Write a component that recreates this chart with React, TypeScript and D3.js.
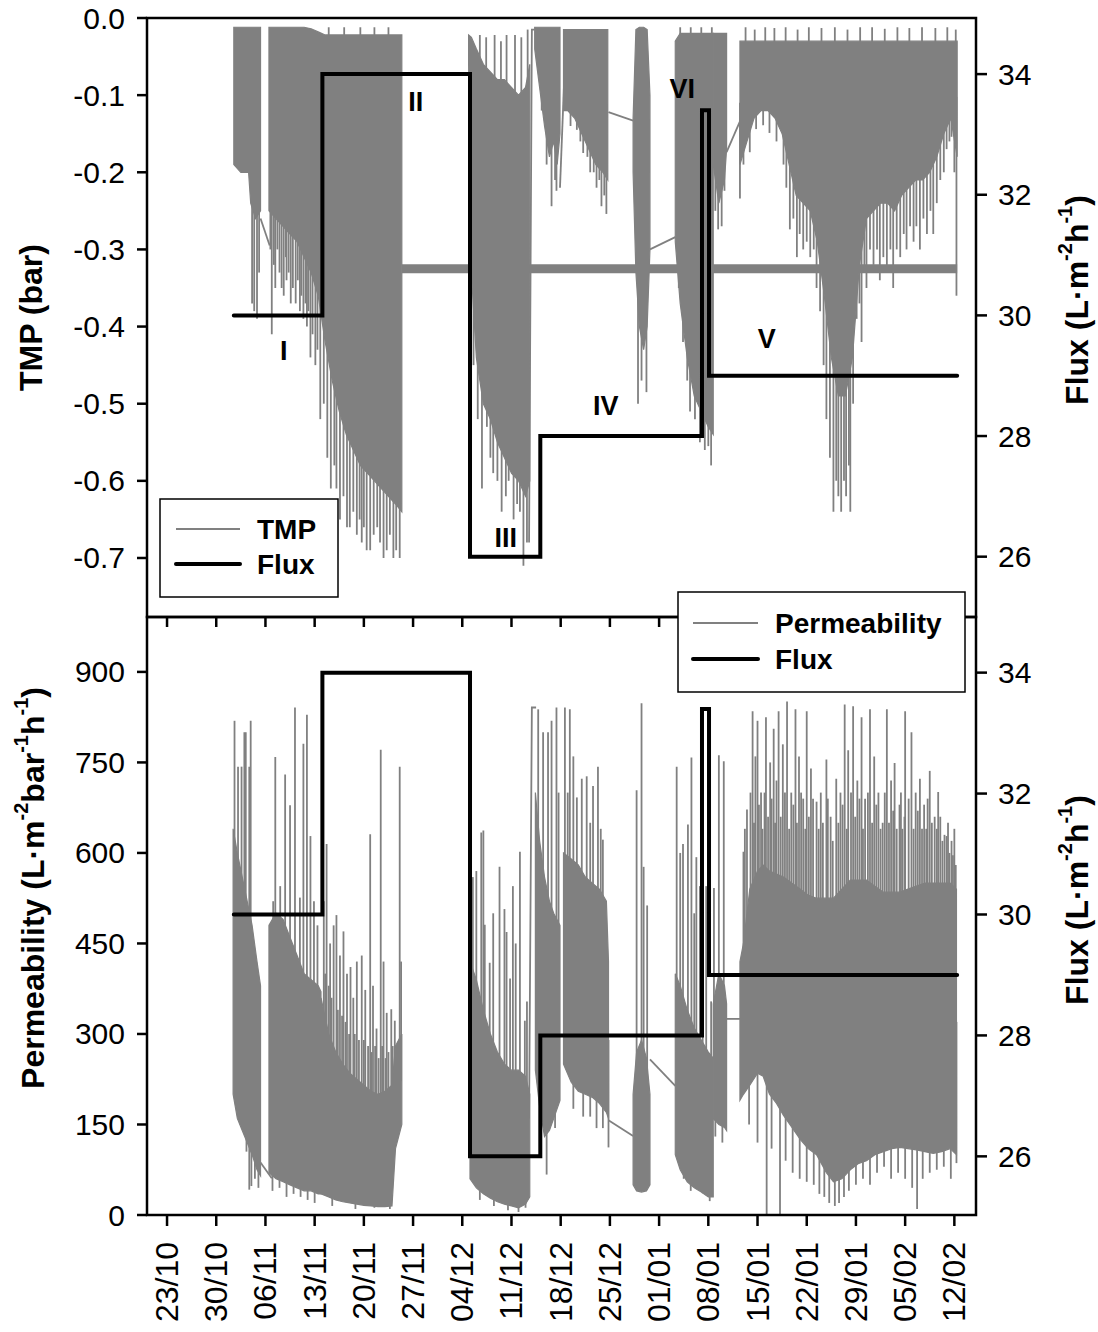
import React from "react";
import * as d3 from "d3";

// ---------------- DATA ----------------
// days are counted from 23/10 (day 0)
const xTickLabels = ["23/10", "30/10", "06/11", "13/11", "20/11", "27/11", "04/12", "11/12", "18/12", "25/12", "01/01", "08/01", "15/01", "22/01", "29/01", "05/02", "12/02"];
const tmpTicks = [0, -0.1, -0.2, -0.3, -0.4, -0.5, -0.6, -0.7];
const permTicks = [0, 150, 300, 450, 600, 750, 900];
const fluxTicks = [26, 28, 30, 32, 34];

// flux step series [day, flux]
const fluxSteps: [number, number][] = [[9.5, 30], [22.1, 34], [43.1, 26], [53.1, 28], [76.1, 33.4], [77.1, 29], [112.4, 29]];

// TMP dense cores [day, upper, lower]
const tmpCore1: [number, number, number][] = [[9.5, -0.012, -0.19], [10.5, -0.012, -0.2], [11.6, -0.012, -0.2], [11.9, -0.012, -0.24], [12.6, -0.012, -0.26], [13.3, -0.012, -0.25]];
const tmpSpikes1: [number, number][] = [[12.1, -0.37], [12.4, -0.38], [12.8, -0.39], [13.1, -0.33]];
const tmpCore2: [number, number, number][] = [[14.5, -0.012, -0.25], [15.5, -0.012, -0.26], [16.5, -0.012, -0.27], [17.5, -0.012, -0.28], [18.5, -0.012, -0.29], [19.5, -0.012, -0.31], [20.5, -0.014, -0.33], [21.5, -0.018, -0.36], [22.5, -0.022, -0.42], [23.5, -0.022, -0.47], [24.5, -0.022, -0.51], [25.5, -0.022, -0.54], [26.5, -0.022, -0.56], [27.5, -0.022, -0.58], [28.5, -0.022, -0.59], [29.5, -0.022, -0.6], [30.5, -0.022, -0.61], [31.5, -0.022, -0.62], [32.5, -0.022, -0.63], [33.4, -0.022, -0.64]];
const tmpSpikes2: [number, number][] = [[14.9, -0.41], [15.4, -0.35], [16.0, -0.33], [16.6, -0.36], [17.0, -0.34], [17.6, -0.37], [18.3, -0.37], [18.9, -0.38], [19.4, -0.39], [19.9, -0.4], [20.4, -0.44], [21.1, -0.45], [21.8, -0.52], [22.3, -0.5], [22.8, -0.57], [23.3, -0.61], [23.8, -0.58], [24.1, -0.61], [24.6, -0.65], [25.1, -0.62], [25.6, -0.66], [26.0, -0.66], [26.5, -0.64], [27.0, -0.67], [27.4, -0.65], [27.7, -0.68], [28.0, -0.66], [28.4, -0.69], [28.9, -0.69], [29.4, -0.67], [29.9, -0.66], [30.3, -0.68], [30.8, -0.7], [31.25, -0.69], [31.7, -0.67], [32.2, -0.7], [32.6, -0.69], [33.1, -0.7], [23.0, -0.012], [25.2, -0.012], [27.5, -0.012], [29.5, -0.012], [31.5, -0.012], [14.7, -0.3], [15.2, -0.32], [15.7, -0.3], [16.3, -0.35], [16.9, -0.31], [17.3, -0.33], [17.9, -0.35], [18.6, -0.34], [19.1, -0.36], [19.7, -0.37], [20.1, -0.38], [20.7, -0.41], [21.4, -0.43]];
const tmpCore3: [number, number, number][] = [[42.9, -0.022, -0.06], [43.3, -0.025, -0.33], [44, -0.04, -0.44], [45, -0.06, -0.5], [46, -0.07, -0.52], [47, -0.08, -0.55], [48, -0.08, -0.57], [49, -0.09, -0.59], [50, -0.1, -0.6], [51, -0.09, -0.62], [51.6, -0.06, -0.6]];
const tmpSpikes3: [number, number][] = [[43.6, -0.45], [44.2, -0.52], [44.8, -0.61], [45.5, -0.53], [46.0, -0.57], [46.4, -0.59], [47.0, -0.6], [47.6, -0.64], [48.2, -0.62], [48.6, -0.6], [49.3, -0.65], [49.8, -0.63], [50.2, -0.64], [50.7, -0.71], [51.2, -0.68], [44.5, -0.022], [45.4, -0.025], [46.6, -0.022], [47.5, -0.03], [48.3, -0.022], [49.5, -0.022], [50.4, -0.025], [51.3, -0.015]];
const tmpCore4: [number, number, number][] = [[52.3, -0.012, -0.04], [53, -0.012, -0.09], [53.7, -0.012, -0.14], [54.4, -0.012, -0.18], [55.0, -0.012, -0.16], [55.5, -0.012, -0.19], [55.9, -0.012, -0.15]];
const tmpSpikes4: [number, number][] = [[53.3, -0.12], [54.0, -0.19], [54.7, -0.244], [55.2, -0.21], [55.4, -0.224]];
const tmpCore5: [number, number, number][] = [[56.4, -0.015, -0.12], [57, -0.015, -0.12], [58, -0.015, -0.13], [59, -0.015, -0.15], [60, -0.015, -0.17], [61, -0.015, -0.19], [62, -0.015, -0.2], [62.7, -0.015, -0.21]];
const tmpSpikes5: [number, number][] = [[57.4, -0.14], [58.3, -0.145], [58.8, -0.16], [59.2, -0.175], [59.8, -0.18], [60.2, -0.2], [60.7, -0.2], [61.1, -0.22], [61.5, -0.21], [61.8, -0.244], [62.2, -0.23], [62.5, -0.254]];
const tmpCore6: [number, number, number][] = [[66.3, -0.13, -0.2], [66.7, -0.015, -0.33], [67.2, -0.012, -0.4], [67.8, -0.012, -0.43], [68.3, -0.015, -0.4], [68.7, -0.1, -0.3]];
const tmpSpikes6: [number, number][] = [[67.0, -0.5], [67.5, -0.47], [68.2, -0.485]];
const tmpCore7: [number, number, number][] = [[72.3, -0.03, -0.29], [73, -0.02, -0.37], [74, -0.02, -0.44], [75, -0.02, -0.49], [76, -0.02, -0.51], [77, -0.02, -0.53], [77.7, -0.02, -0.54]];
const tmpSpikes7: [number, number][] = [[72.8, -0.35], [73.4, -0.42], [74.0, -0.47], [74.4, -0.51], [75.1, -0.52], [75.8, -0.55], [76.5, -0.56], [77.0, -0.555], [77.4, -0.58], [73.0, -0.012], [74.5, -0.012], [76.0, -0.012], [77.5, -0.012]];
const tmpCore8: [number, number, number][] = [[77.7, -0.02, -0.19], [78.5, -0.02, -0.24], [79.3, -0.02, -0.21], [79.6, -0.02, -0.17]];
const tmpSpikes8: [number, number][] = [[78.0, -0.25], [78.4, -0.274], [78.9, -0.27], [79.3, -0.224]];
const tmpCore9: [number, number, number][] = [[81.5, -0.03, -0.19], [82.5, -0.03, -0.16], [83.5, -0.03, -0.13], [84.5, -0.03, -0.12], [85.5, -0.03, -0.12], [86.5, -0.03, -0.13], [87.5, -0.03, -0.15], [88.5, -0.03, -0.19], [89.5, -0.03, -0.23], [90.5, -0.03, -0.24], [91.5, -0.03, -0.25], [92.5, -0.03, -0.29], [93.5, -0.03, -0.36], [94.5, -0.03, -0.44], [95.5, -0.03, -0.49], [96.5, -0.03, -0.49], [97.5, -0.03, -0.44], [98.5, -0.03, -0.32], [99.5, -0.03, -0.26], [100.5, -0.03, -0.25], [101.5, -0.03, -0.24], [102.5, -0.03, -0.24], [103.5, -0.03, -0.25], [104.5, -0.03, -0.23], [105.5, -0.03, -0.22], [106.5, -0.03, -0.21], [107.5, -0.03, -0.21], [108.5, -0.03, -0.2], [109.5, -0.03, -0.18], [110.5, -0.03, -0.15], [111.5, -0.03, -0.13], [112.4, -0.03, -0.18]];
const tmpSpikes9: [number, number][] = [[81.5, -0.234], [82.0, -0.19], [82.9, -0.174], [83.8, -0.144], [84.8, -0.139], [85.7, -0.149], [86.7, -0.16], [87.7, -0.19], [88.1, -0.22], [88.6, -0.274], [89.1, -0.26], [89.6, -0.31], [90.0, -0.28], [90.5, -0.3], [91.0, -0.29], [91.5, -0.31], [92.0, -0.3], [92.4, -0.35], [92.9, -0.38], [93.4, -0.45], [93.8, -0.52], [94.3, -0.57], [94.8, -0.64], [95.2, -0.6], [95.5, -0.62], [95.9, -0.64], [96.3, -0.6], [96.6, -0.62], [97.0, -0.58], [97.2, -0.64], [97.6, -0.5], [98.1, -0.39], [98.5, -0.37], [98.8, -0.42], [99.2, -0.33], [99.5, -0.35], [100.0, -0.3], [100.5, -0.32], [101.0, -0.3], [101.4, -0.34], [101.9, -0.31], [102.4, -0.33], [102.9, -0.3], [103.3, -0.35], [103.8, -0.3], [104.3, -0.31], [104.8, -0.28], [105.2, -0.3], [105.7, -0.27], [106.2, -0.29], [106.6, -0.27], [107.1, -0.3], [107.6, -0.26], [108.1, -0.28], [108.6, -0.25], [109.0, -0.28], [109.5, -0.24], [110.0, -0.21], [110.5, -0.2], [110.9, -0.17], [111.3, -0.16], [111.6, -0.154], [112.0, -0.2], [112.3, -0.36], [82.3, -0.012], [83.6, -0.015], [85.1, -0.012], [86.4, -0.013], [88.0, -0.012], [89.7, -0.015], [91.3, -0.012], [93.1, -0.013], [95.0, -0.012], [96.8, -0.015], [98.6, -0.012], [100.3, -0.012], [102.1, -0.014], [103.9, -0.012], [105.6, -0.013], [107.4, -0.012], [109.3, -0.013], [111.0, -0.012], [112.2, -0.015]];
// thin lines bridging gaps in the TMP record
const tmpLink1: [number, number][] = [[13.3, -0.26], [14.6, -0.295]];
const tmpLink2: [number, number][] = [[51.5, -0.68], [51.9, -0.015], [52.3, -0.015]];
const tmpLink3: [number, number][] = [[55.9, -0.22], [56.5, -0.08]];
const tmpLink4: [number, number][] = [[62.8, -0.122], [66.3, -0.133]];
const tmpLink5: [number, number][] = [[68.7, -0.3], [72.3, -0.284]];
const tmpLink6: [number, number][] = [[79.6, -0.174], [81.5, -0.134]];
// constant band at -0.325 bar
const tmpBand: [number, number][] = [[33.4, -0.325], [112.4, -0.325]];

// Permeability dense cores [day, upper, lower]
const permCore1: [number, number, number][] = [[9.4, 640, 200], [10.0, 600, 160], [10.7, 560, 140], [11.4, 520, 120], [12.1, 480, 100], [12.8, 420, 75], [13.3, 380, 65]];
const permSpikes1: [number, number][] = [[9.6, 819], [10.1, 743], [10.6, 743], [11.0, 800], [11.2, 800], [11.7, 743], [11.9, 819], [11.3, 105], [11.7, 42], [12.0, 48], [12.5, 60], [13.0, 45]];
const permCore2: [number, number, number][] = [[14.5, 480, 70], [15.5, 500, 60], [16.5, 490, 55], [17.5, 460, 50], [18.5, 430, 45], [19.5, 400, 40], [20.5, 390, 40], [21.5, 380, 35], [21.9, 370, 35]];
const permSpikes2: [number, number][] = [[15.1, 520], [15.4, 759], [16.1, 545], [16.8, 730], [17.5, 679], [18.2, 841], [18.9, 526], [19.4, 781], [19.9, 829], [20.4, 628], [20.9, 520], [21.4, 480], [15.0, 40], [16.0, 45], [17.0, 30], [18.0, 35], [19.0, 30], [20.0, 25], [21.0, 20]];
const permCore3: [number, number, number][] = [[21.9, 360, 35], [23, 300, 30], [24, 270, 25], [25, 250, 22], [26, 235, 20], [27, 225, 18], [28, 215, 16], [29, 205, 15], [30, 200, 14], [31, 205, 14], [32, 215, 15], [32.5, 280, 110], [33.4, 300, 150]];
const permSpikes3: [number, number][] = [[22.3, 520], [22.7, 615], [23.2, 450], [23.7, 480], [24.1, 497], [24.6, 430], [25.1, 470], [25.6, 400], [26.1, 411], [26.5, 360], [27.0, 420], [27.7, 430], [28.2, 373], [28.9, 631], [29.3, 380], [29.8, 309], [30.4, 771], [30.8, 420], [31.25, 335], [31.9, 341], [32.4, 322], [33.1, 743], [33.3, 420], [23.5, 15], [26.8, 10], [29.5, 12], [31.7, 10], [22.5, 400], [23.0, 380], [23.4, 360], [24.3, 340], [24.9, 330], [25.4, 320], [25.9, 300], [26.7, 300], [27.3, 290], [28.0, 290], [28.6, 280], [29.1, 270], [29.6, 280], [30.1, 260], [30.6, 280], [31.1, 260], [31.5, 270], [32.1, 280]];
const permCore4: [number, number, number][] = [[43.1, 420, 60], [44, 390, 45], [45, 340, 35], [46, 300, 28], [47, 270, 22], [48, 250, 18], [49, 240, 15], [50, 240, 12], [51, 230, 18], [51.6, 200, 30]];
const permSpikes4: [number, number][] = [[43.2, 743], [43.5, 560], [44.0, 570], [44.7, 634], [45.0, 637], [45.2, 481], [45.9, 418], [46.4, 500], [47.3, 577], [48.0, 507], [48.3, 469], [48.8, 392], [49.2, 545], [49.6, 450], [50.2, 602], [50.9, 322], [51.2, 354], [44.5, 25], [46.5, 15], [48.5, 8], [50.0, 5], [51.0, 12]];
const permCore5: [number, number, number][] = [[52.4, 700, 240], [53, 620, 180], [53.7, 560, 130], [54.4, 520, 140], [55, 500, 160], [55.9, 480, 190]];
const permSpikes5: [number, number][] = [[52.8, 838], [53.5, 800], [54.2, 800], [54.7, 819], [55.4, 841], [55.7, 700], [54.0, 67], [54.5, 188], [55.2, 144], [53.2, 120]];
const permCore6: [number, number, number][] = [[56.4, 600, 250], [57.5, 590, 220], [58.5, 580, 205], [59.5, 560, 200], [60.5, 550, 195], [61.5, 540, 185], [62.5, 520, 170], [62.8, 420, 160]];
const permSpikes6: [number, number][] = [[56.6, 841], [57.0, 700], [57.3, 838], [57.8, 760], [58.3, 692], [59.0, 723], [59.7, 727], [60.2, 650], [60.6, 711], [61.3, 743], [61.7, 640], [62.0, 622], [57.8, 176], [59.2, 163], [60.2, 163], [61.1, 144], [62.0, 144], [62.8, 112]];
const permCore7: [number, number, number][] = [[66.3, 200, 50], [66.8, 270, 40], [67.5, 290, 38], [68.2, 260, 40], [68.7, 200, 50]];
const permSpikes7: [number, number][] = [[66.8, 704], [67.5, 848], [67.8, 577], [68.3, 513]];
const permCore8: [number, number, number][] = [[72.3, 400, 100], [73, 380, 75], [74, 340, 55], [75, 310, 45], [76, 290, 38], [77, 270, 30], [77.7, 260, 30]];
const permSpikes8: [number, number][] = [[72.5, 743], [73.0, 600], [73.4, 615], [74.1, 647], [74.6, 758], [75.0, 500], [75.3, 593], [75.8, 545], [76.2, 450], [76.7, 545], [77.4, 354], [76.2, 36], [77.2, 23], [74.5, 40], [73.5, 60]];
const permCore9: [number, number, number][] = [[77.7, 350, 160], [78.5, 400, 150], [79.3, 380, 145], [79.6, 350, 140]];
const permSpikes9: [number, number][] = [[77.8, 542], [78.5, 762], [79.2, 752], [78.0, 130], [79.0, 120]];
const permCore10: [number, number, number][] = [[81.5, 420, 190], [82.0, 450, 200], [82.9, 540, 215], [84.0, 570, 235], [84.8, 580, 230], [85.7, 570, 200], [86.7, 565, 185], [87.7, 560, 165], [88.9, 550, 145], [90.1, 540, 125], [91.2, 530, 110], [92.4, 525, 100], [93.8, 525, 70], [94.8, 525, 55], [96.0, 540, 60], [97.2, 555, 75], [98.3, 555, 85], [99.5, 555, 90], [100.7, 545, 100], [101.9, 535, 105], [103.1, 535, 110], [104.3, 535, 112], [105.4, 540, 110], [106.6, 545, 108], [107.8, 550, 105], [109.0, 550, 102], [110.2, 550, 105], [111.4, 550, 110], [112.3, 540, 100]];
const permSpikes10: [number, number][] = [[82.0, 602], [82.5, 672], [83.3, 835], [83.7, 760], [84.0, 819], [84.5, 700], [85.2, 825], [85.8, 750], [86.3, 806], [86.7, 720], [87.0, 835], [87.6, 780], [88.2, 851], [88.8, 700], [89.4, 838], [89.9, 760], [90.5, 690], [91.0, 835], [91.6, 740], [92.4, 685], [93.0, 700], [93.8, 755], [94.4, 660], [95.2, 723], [95.8, 700], [96.4, 846], [96.9, 770], [97.6, 843], [98.2, 720], [98.8, 825], [99.3, 690], [100.0, 838], [100.6, 760], [101.2, 700], [101.8, 650], [102.4, 838], [103.0, 720], [103.5, 749], [104.2, 680], [104.6, 640], [105.0, 835], [105.9, 800], [106.5, 700], [107.1, 723], [107.7, 680], [108.0, 640], [108.5, 736], [109.2, 660], [109.7, 701], [110.3, 620], [110.9, 628], [111.3, 600], [111.8, 596], [112.2, 580], [82.8, 150], [84.0, 120], [85.3, -60], [86.0, 110], [87.2, -60], [88.0, 90], [89.0, 70], [90.0, 60], [91.0, 55], [92.0, 50], [92.8, 35], [93.5, 30], [94.2, 20], [95.0, 15], [95.6, 20], [96.3, 30], [97.0, 40], [98.0, 50], [99.0, 60], [100.0, 50], [101.0, 70], [102.0, 80], [103.0, 60], [104.0, 70], [105.0, 60], [106.0, 45], [106.7, 10], [107.5, 60], [108.5, 70], [109.5, 75], [110.5, 80], [111.5, 60], [112.3, 86], [82.2, 640], [83.0, 700], [83.5, 650], [84.2, 680], [84.7, 640], [85.0, 700], [85.5, 660], [86.0, 690], [86.5, 650], [87.3, 660], [87.9, 700], [88.5, 640], [89.1, 680], [89.6, 650], [90.2, 700], [90.8, 640], [91.3, 660], [91.9, 690], [92.7, 640], [93.3, 650], [94.0, 690], [94.7, 620], [95.5, 650], [96.1, 680], [96.7, 640], [97.3, 700], [97.9, 660], [98.5, 690], [99.0, 640], [99.7, 700], [100.3, 650], [100.9, 680], [101.5, 640], [102.1, 700], [102.7, 650], [103.3, 670], [103.8, 640], [104.4, 700], [104.9, 660], [105.5, 690], [106.2, 640], [106.8, 670], [107.4, 640], [108.2, 690], [108.8, 650], [109.5, 640], [110.0, 660], [110.6, 630], [111.1, 650], [111.6, 620], [112.0, 640]];
const permLink1: [number, number][] = [[13.3, 87], [14.9, 61]];
const permLink2: [number, number][] = [[51.5, 160], [51.9, 841], [52.5, 841]];
const permLink3: [number, number][] = [[62.8, 157], [66.3, 131]];
const permLink4: [number, number][] = [[68.7, 258], [72.3, 214]];
const permLink5: [number, number][] = [[79.6, 325], [81.5, 325]];

// period annotations in the TMP panel [label, day, TMP]
const periodLabels: [string, number, number][] = [["I", 16.6, -0.432], ["II", 35.4, -0.109], ["III", 48.2, -0.674], ["IV", 62.4, -0.503], ["VI", 73.3, -0.092], ["V", 85.3, -0.416]];

// ---------------- LAYOUT ----------------
const W = 1098, H = 1332;
const LEFT = 147, RIGHT = 976, TOP = 18, MID = 617, BOTTOM = 1215;
const GRAY = "#808080";
const FONT = "'Liberation Sans', Arial, Helvetica, sans-serif";

const BASE_MS = Date.UTC(2013, 9, 23);
const dayToDate = (d: number) => new Date(BASE_MS + d * 86400000);
const labelToDate = (s: string) => {
  const [dd, mm] = s.split("/").map(Number);
  return new Date(Date.UTC(mm >= 7 ? 2013 : 2014, mm - 1, dd));
};

const x = d3.scaleUtc().domain([dayToDate(-2.85), dayToDate(115.08)]).range([LEFT, RIGHT]);
const yTmp = d3.scaleLinear().domain([-0.7765, 0]).range([MID, TOP]);
const yFluxTop = d3.scaleLinear().domain([25, 34.93]).range([MID, TOP]);
const yPerm = d3.scaleLinear().domain([0, 991]).range([BOTTOM, MID]);
const yFluxBot = d3.scaleLinear().domain([25.03, 34.92]).range([BOTTOM, MID]);

type Core = [number, number, number][];
type Pts = [number, number][];

function midAt(core: Core, day: number) {
  const i = d3.bisector((c: [number, number, number]) => c[0]).left(core, day);
  if (i <= 0) return (core[0][1] + core[0][2]) / 2;
  if (i >= core.length) { const c = core[core.length - 1]; return (c[1] + c[2]) / 2; }
  const a = core[i - 1], b = core[i];
  const t = (day - a[0]) / (b[0] - a[0]);
  return ((a[1] + a[2]) / 2) * (1 - t) + ((b[1] + b[2]) / 2) * t;
}

function Series({ segs, links, y }: { segs: [Core, Pts][]; links: Pts[]; y: d3.ScaleLinear<number, number> }) {
  const area = d3.area<[number, number, number]>().x((d) => x(dayToDate(d[0]))).y0((d) => y(d[2])).y1((d) => y(d[1]));
  const line = d3.line<[number, number]>().x((d) => x(dayToDate(d[0]))).y((d) => y(d[1]));
  return (
    <g>
      {segs.map(([core, spikes], i) => (
        <g key={i}>
          <path d={area(core) || ""} fill={GRAY} stroke={GRAY} strokeWidth={1.2} />
          {spikes.map((s, j) => (
            <line key={j} x1={x(dayToDate(s[0]))} x2={x(dayToDate(s[0]))} y1={y(midAt(core, s[0]))} y2={y(s[1])} stroke={GRAY} strokeWidth={1.8} />
          ))}
        </g>
      ))}
      {links.map((l, i) => (
        <path key={i} d={line(l) || ""} fill="none" stroke={GRAY} strokeWidth={1.8} />
      ))}
    </g>
  );
}

function FluxLine({ y }: { y: d3.ScaleLinear<number, number> }) {
  const line = d3.line<[number, number]>().x((d) => x(dayToDate(d[0]))).y((d) => y(d[1])).curve(d3.curveStepAfter);
  return <path d={line(fluxSteps) || ""} fill="none" stroke="#000" strokeWidth={4} strokeLinecap="round" strokeLinejoin="miter" />;
}

export default function App() {
  const bandLine = d3.line<[number, number]>().x((d) => x(dayToDate(d[0]))).y((d) => yTmp(d[1]));
  const tmpSegs: [Core, Pts][] = [[tmpCore1, tmpSpikes1], [tmpCore2, tmpSpikes2], [tmpCore3, tmpSpikes3], [tmpCore4, tmpSpikes4], [tmpCore5, tmpSpikes5], [tmpCore6, tmpSpikes6], [tmpCore7, tmpSpikes7], [tmpCore8, tmpSpikes8], [tmpCore9, tmpSpikes9]];
  const tmpLinks = [tmpLink1, tmpLink2, tmpLink3, tmpLink4, tmpLink5, tmpLink6];
  const permSegs: [Core, Pts][] = [[permCore1, permSpikes1], [permCore2, permSpikes2], [permCore3, permSpikes3], [permCore4, permSpikes4], [permCore5, permSpikes5], [permCore6, permSpikes6], [permCore7, permSpikes7], [permCore8, permSpikes8], [permCore9, permSpikes9], [permCore10, permSpikes10]];
  const permLinks = [permLink1, permLink2, permLink3, permLink4, permLink5];
  const xTicks = xTickLabels.map((s) => ({ s, v: x(labelToDate(s)) }));
  const tickFont = 30;
  const titleFont = 32;
  const supFont = 20;

  return (
    <svg width={W} height={H} style={{ position: "absolute", left: 0, top: 0, background: "#fff" }} fontFamily={FONT}>
      <defs>
        <clipPath id="clipTop"><rect x={LEFT} y={TOP} width={RIGHT - LEFT} height={MID - TOP} /></clipPath>
        <clipPath id="clipBot"><rect x={LEFT} y={MID} width={RIGHT - LEFT} height={BOTTOM - MID} /></clipPath>
      </defs>
      <rect x={0} y={0} width={W} height={H} fill="#fff" />

      {/* top panel data */}
      <g clipPath="url(#clipTop)">
        <path d={bandLine(tmpBand) || ""} stroke={GRAY} strokeWidth={9} fill="none" />
        <Series segs={tmpSegs} links={tmpLinks} y={yTmp} />
        <FluxLine y={yFluxTop} />
      </g>

      {/* bottom panel data */}
      <g clipPath="url(#clipBot)">
        <Series segs={permSegs} links={permLinks} y={yPerm} />
        <FluxLine y={yFluxBot} />
      </g>

      {/* frames */}
      <rect x={LEFT} y={TOP} width={RIGHT - LEFT} height={MID - TOP} fill="none" stroke="#000" strokeWidth={2.5} />
      <rect x={LEFT} y={MID} width={RIGHT - LEFT} height={BOTTOM - MID} fill="none" stroke="#000" strokeWidth={2.5} />

      {/* period labels */}
      {periodLabels.map(([t, d, v]) => (
        <text key={t} x={x(dayToDate(d))} y={yTmp(v)} textAnchor="middle" dominantBaseline="central" fontWeight="bold" fontSize={27}>{t}</text>
      ))}

      {/* left TMP axis */}
      {tmpTicks.map((t) => (
        <g key={t}>
          <line x1={LEFT - 10} x2={LEFT} y1={yTmp(t)} y2={yTmp(t)} stroke="#000" strokeWidth={2.5} />
          <text x={LEFT - 22} y={yTmp(t)} textAnchor="end" dominantBaseline="central" fontSize={tickFont}>{t.toFixed(1)}</text>
        </g>
      ))}
      {/* left perm axis */}
      {permTicks.map((t) => (
        <g key={t}>
          <line x1={LEFT - 10} x2={LEFT} y1={yPerm(t)} y2={yPerm(t)} stroke="#000" strokeWidth={2.5} />
          <text x={LEFT - 22} y={yPerm(t)} textAnchor="end" dominantBaseline="central" fontSize={tickFont}>{t}</text>
        </g>
      ))}
      {/* right flux axes */}
      {fluxTicks.map((t) => (
        <g key={"ft" + t}>
          <line x1={RIGHT} x2={RIGHT + 11} y1={yFluxTop(t)} y2={yFluxTop(t)} stroke="#000" strokeWidth={2.5} />
          <text x={RIGHT + 22} y={yFluxTop(t)} dominantBaseline="central" fontSize={tickFont}>{t}</text>
          <line x1={RIGHT} x2={RIGHT + 11} y1={yFluxBot(t)} y2={yFluxBot(t)} stroke="#000" strokeWidth={2.5} />
          <text x={RIGHT + 22} y={yFluxBot(t)} dominantBaseline="central" fontSize={tickFont}>{t}</text>
        </g>
      ))}
      {/* x ticks */}
      {xTicks.map(({ s, v }) => (
        <g key={s}>
          <line x1={v} x2={v} y1={MID} y2={MID + 10} stroke="#000" strokeWidth={2.5} />
          <line x1={v} x2={v} y1={BOTTOM} y2={BOTTOM + 11} stroke="#000" strokeWidth={2.5} />
          <text transform={`translate(${v},${BOTTOM + 27}) rotate(-90)`} textAnchor="end" dominantBaseline="central" fontSize={32}>{s}</text>
        </g>
      ))}

      {/* axis titles */}
      <text transform={`translate(31,${(TOP + MID) / 2}) rotate(-90)`} textAnchor="middle" dominantBaseline="central" fontWeight="bold" fontSize={titleFont}>TMP (bar)</text>
      <text transform={`translate(33,888) rotate(-90)`} textAnchor="middle" dominantBaseline="central" fontWeight="bold" fontSize={titleFont}>
        Permeability (L·m<tspan dy={-12} fontSize={supFont}>-2</tspan><tspan dy={12}>bar</tspan><tspan dy={-12} fontSize={supFont}>-1</tspan><tspan dy={12}>h</tspan><tspan dy={-12} fontSize={supFont}>-1</tspan><tspan dy={12}>)</tspan>
      </text>
      {[300, 900].map((cy) => (
        <text key={cy} transform={`translate(1077,${cy}) rotate(-90)`} textAnchor="middle" dominantBaseline="central" fontWeight="bold" fontSize={titleFont}>
          Flux (L·m<tspan dy={-12} fontSize={supFont}>-2</tspan><tspan dy={12}>h</tspan><tspan dy={-12} fontSize={supFont}>-1</tspan><tspan dy={12}>)</tspan>
        </text>
      ))}

      {/* top legend */}
      <g>
        <rect x={160} y={499} width={178} height={98} fill="#fff" stroke="#000" strokeWidth={1.5} />
        <line x1={176} x2={240} y1={529} y2={529} stroke={GRAY} strokeWidth={2} />
        <line x1={176} x2={240} y1={564} y2={564} stroke="#000" strokeWidth={4} strokeLinecap="round" />
        <text x={257} y={529} dominantBaseline="central" fontWeight="bold" fontSize={28}>TMP</text>
        <text x={257} y={564} dominantBaseline="central" fontWeight="bold" fontSize={28}>Flux</text>
      </g>
      {/* bottom legend */}
      <g>
        <rect x={678} y={592} width={287} height={100} fill="#fff" stroke="#000" strokeWidth={1.5} />
        <line x1={693} x2={758} y1={623} y2={623} stroke={GRAY} strokeWidth={2} />
        <line x1={693} x2={758} y1={659} y2={659} stroke="#000" strokeWidth={4} strokeLinecap="round" />
        <text x={775} y={623} dominantBaseline="central" fontWeight="bold" fontSize={28}>Permeability</text>
        <text x={775} y={659} dominantBaseline="central" fontWeight="bold" fontSize={28}>Flux</text>
      </g>
    </svg>
  );
}
